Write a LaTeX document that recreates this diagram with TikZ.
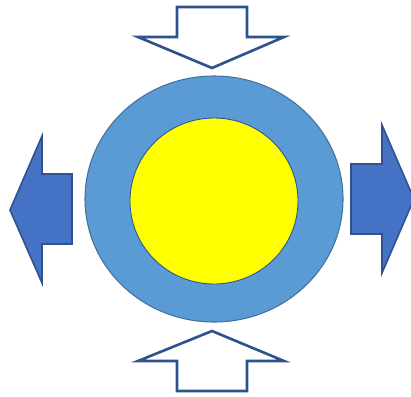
\documentclass[tikz,border=0pt]{standalone}
\usepackage{xcolor}
\definecolor{ringblue}{HTML}{5B9BD5}
\definecolor{ringedge}{HTML}{41719C}
\definecolor{arrowblue}{HTML}{4472C4}
\definecolor{arrowedge}{HTML}{2F528F}
\definecolor{coreyellow}{HTML}{FFFF00}

\tikzset{
  ring/.style={fill=ringblue, draw=ringedge, line width=0.6pt},
  core/.style={fill=coreyellow, draw=arrowedge, line width=0.5pt},
  hollowarrow/.style={fill=white, draw=arrowedge, line width=1.5pt, line join=miter},
  solidarrow/.style={fill=arrowblue, draw=arrowedge, line width=0.9pt, line join=miter}
}

\begin{document}
\begin{tikzpicture}[x=0.02cm, y=-0.02cm]
    \useasboundingbox (0,0) rectangle (411,396);
    % ring and core
    \draw[ring] (214,199) ellipse (129 and 123);
    \draw[core] (214,201) ellipse (84 and 83);
    % pushing in, top and bottom
    \draw[hollowarrow] (177,7) -- (247,7) -- (247,37) -- (284,37) -- (212,68)
      -- (138,37) -- (177,37) -- cycle;
    \draw[hollowarrow] (177,391) -- (247,391) -- (247,361) -- (284,361) -- (212,331)
      -- (138,361) -- (177,361) -- cycle;
    % pushing out, left and right
    \draw[solidarrow] (72,174) -- (72,244) -- (42,244) -- (42,283) -- (10,210)
      -- (42,136) -- (42,174) -- cycle;
    \draw[solidarrow] (351,164) -- (351,234) -- (382,234) -- (382,273) -- (414,199)
      -- (382,125) -- (382,164) -- cycle;
\end{tikzpicture}
\end{document}
